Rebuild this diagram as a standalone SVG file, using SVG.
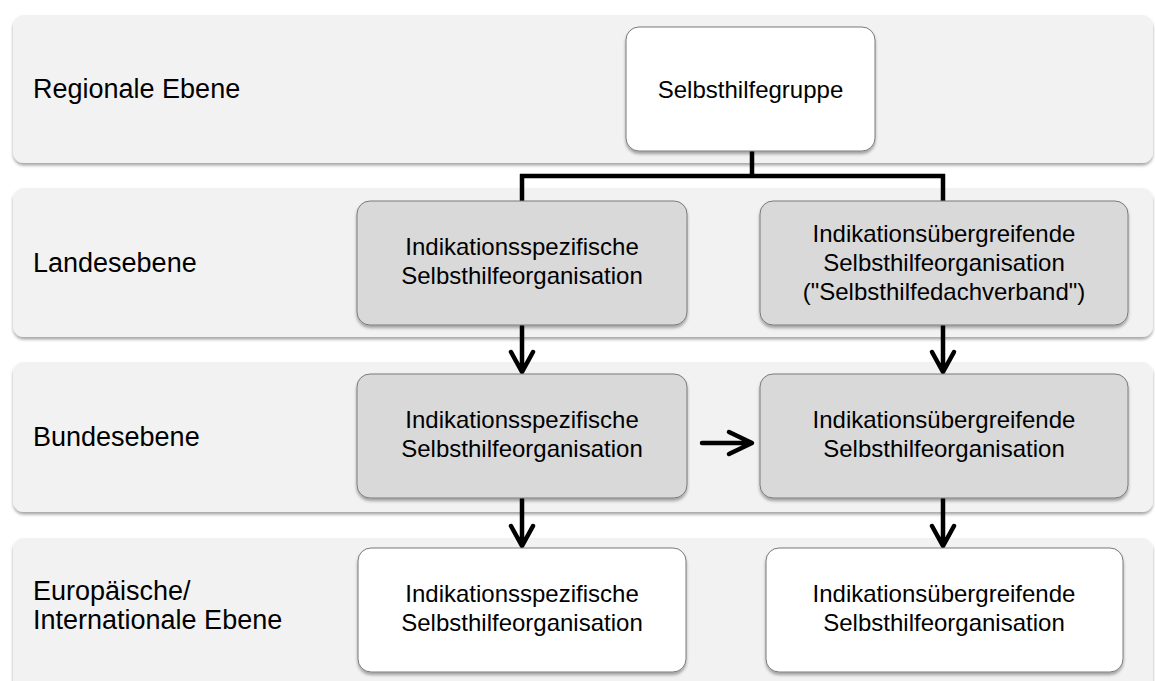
<svg xmlns="http://www.w3.org/2000/svg" width="1155" height="681" viewBox="0 0 1155 681">
  <defs>
    <filter id="shadow" x="-5%" y="-10%" width="110%" height="130%">
      <feDropShadow dx="0" dy="2.5" stdDeviation="1.6" flood-color="#000" flood-opacity="0.35"/>
    </filter>
    <style>
      .band { fill: #f2f2f2; filter: url(#shadow); }
      .box-grey { fill: #d9d9d9; stroke: #7a7a7a; stroke-width: 1; filter: url(#shadow); }
      .box-white { fill: #ffffff; stroke: #7a7a7a; stroke-width: 1; filter: url(#shadow); }
      .label { font-family: "Liberation Sans", Arial, sans-serif; font-size: 27px; fill: #000; }
      .txt { font-family: "Liberation Sans", Arial, sans-serif; font-size: 24px; fill: #000; text-anchor: middle; }
      .conn { fill: none; stroke: #000; stroke-width: 4.5; stroke-linecap: round; stroke-linejoin: round; }
      .line { fill: none; stroke: #000; stroke-width: 4.5; stroke-linecap: butt; stroke-linejoin: miter; }
    </style>
  </defs>

  <rect width="1155" height="681" fill="#ffffff"/>

  <!-- level bands -->
  <g id="band-regional">
    <rect class="band" x="13" y="15" width="1140" height="148" rx="11"/>
    <text class="label" x="33" y="98">Regionale Ebene</text>
  </g>
  <g id="band-land">
    <rect class="band" x="13" y="188" width="1140" height="149" rx="11"/>
    <text class="label" x="33" y="272">Landesebene</text>
  </g>
  <g id="band-bund">
    <rect class="band" x="13" y="362" width="1140" height="150" rx="11"/>
    <text class="label" x="33" y="446">Bundesebene</text>
  </g>
  <g id="band-international">
    <rect class="band" x="13" y="538" width="1140" height="160" rx="11"/>
    <text class="label" x="33" y="600">Europäische/</text>
    <text class="label" x="33" y="629">Internationale Ebene</text>
  </g>

  <!-- connectors -->
  <g id="connectors">
    <path class="line" d="M752 151 V176 M520 176 H945 M522 174 V201 M943 174 V201"/>
    <path class="conn" d="M522 326 V371 M511 352 L522 372 L533 352"/>
    <path class="conn" d="M943 326 V371 M932 352 L943 372 L954 352"/>
    <path class="conn" d="M522 499 V545 M511 526 L522 546 L533 526"/>
    <path class="conn" d="M943 499 V545 M932 526 L943 546 L954 526"/>
    <path class="conn" d="M702 443 H751 M729 432 L752 443 L729 454"/>
  </g>

  <!-- nodes -->
  <g id="node-selbsthilfegruppe">
    <rect class="box-white" x="626" y="27" width="249" height="124" rx="13"/>
    <text class="txt" x="750.5" y="98">Selbsthilfegruppe</text>
  </g>

  <g id="node-land-spezifisch">
    <rect class="box-grey" x="357" y="201" width="330" height="124" rx="13"/>
    <text class="txt" x="522" y="255">Indikationsspezifische</text>
    <text class="txt" x="522" y="284">Selbsthilfeorganisation</text>
  </g>
  <g id="node-land-uebergreifend">
    <rect class="box-grey" x="760" y="201" width="368" height="124" rx="13"/>
    <text class="txt" x="944" y="242">Indikationsübergreifende</text>
    <text class="txt" x="944" y="271">Selbsthilfeorganisation</text>
    <text class="txt" x="944" y="300">("Selbsthilfedachverband")</text>
  </g>

  <g id="node-bund-spezifisch">
    <rect class="box-grey" x="357" y="374" width="330" height="124" rx="13"/>
    <text class="txt" x="522" y="428">Indikationsspezifische</text>
    <text class="txt" x="522" y="457">Selbsthilfeorganisation</text>
  </g>
  <g id="node-bund-uebergreifend">
    <rect class="box-grey" x="760" y="374" width="368" height="124" rx="13"/>
    <text class="txt" x="944" y="428">Indikationsübergreifende</text>
    <text class="txt" x="944" y="457">Selbsthilfeorganisation</text>
  </g>

  <g id="node-int-spezifisch">
    <rect class="box-white" x="358" y="548" width="328" height="124" rx="13"/>
    <text class="txt" x="522" y="602">Indikationsspezifische</text>
    <text class="txt" x="522" y="631">Selbsthilfeorganisation</text>
  </g>
  <g id="node-int-uebergreifend">
    <rect class="box-white" x="766" y="548" width="357" height="124" rx="13"/>
    <text class="txt" x="944" y="602">Indikationsübergreifende</text>
    <text class="txt" x="944" y="631">Selbsthilfeorganisation</text>
  </g>
</svg>
